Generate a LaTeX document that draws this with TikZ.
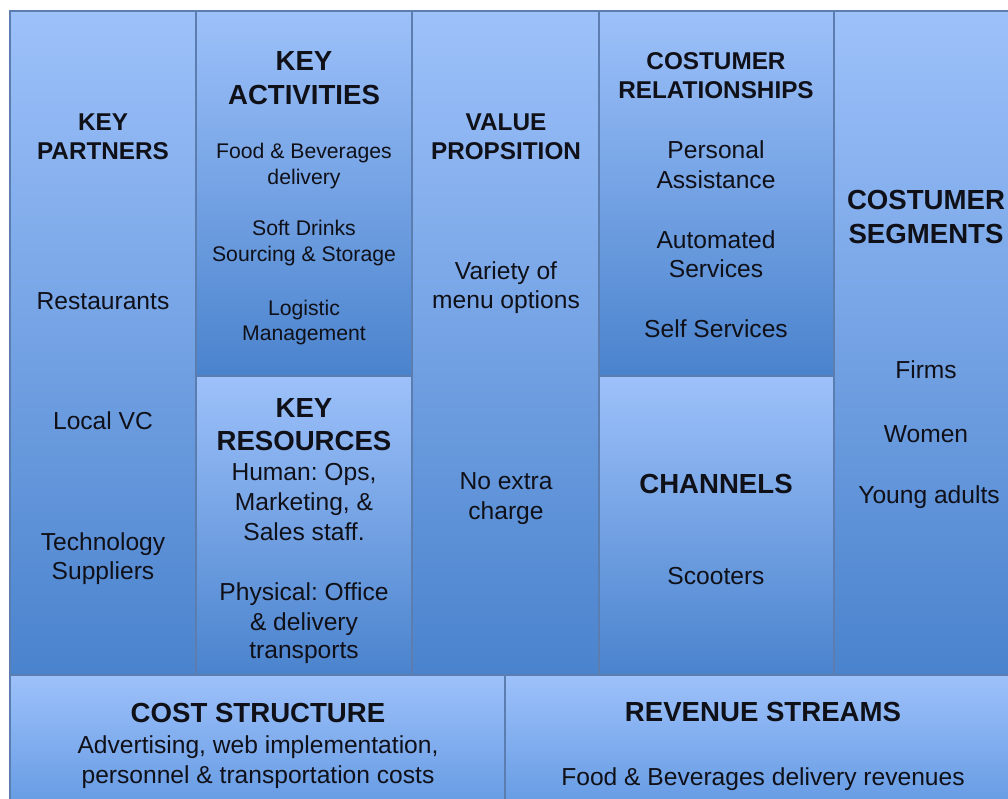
\documentclass[tikz,border=0pt]{standalone}
\usepackage{fontspec}
\setmainfont{Liberation Sans}
\frenchspacing
\definecolor{lightb}{HTML}{9DC1FA}
\definecolor{darkb}{HTML}{4A83CD}
\definecolor{midb}{HTML}{6399E2}
\definecolor{edgeb}{HTML}{5B7DB0}
\definecolor{ink}{HTML}{101018}
\begin{document}
\begin{tikzpicture}[x=1pt,y=-1pt,
  cell/.style={top color=lightb,bottom color=darkb,draw=edgeb,line width=1.2pt},
  lowcell/.style={top color=lightb,bottom color=midb,draw=edgeb,line width=1.2pt},
  ttls/.style={font=\fontsize{24.3}{29}\selectfont\bfseries,anchor=base,inner sep=0pt,text=ink},
  ttll/.style={font=\fontsize{27.6}{34}\selectfont\bfseries,anchor=base,inner sep=0pt,text=ink},
  body/.style={font=\fontsize{24.6}{30}\selectfont,anchor=base,inner sep=0pt,text=ink},
  small/.style={font=\fontsize{21.2}{26}\selectfont,anchor=base,inner sep=0pt,text=ink}]
\useasboundingbox (0,0) rectangle (1008,798);
\fill[white] (0,0) rectangle (1008,798);
\begin{scope}
\clip (0,0) rectangle (1008,798);
% boxes
\shade[cell] (10,11) rectangle (196,675);
\shade[cell] (196,11) rectangle (412,376);
\shade[cell] (196,376) rectangle (412,675);
\shade[cell] (412,11) rectangle (599,675);
\shade[cell] (599,11) rectangle (834,376);
\shade[cell] (599,376) rectangle (834,675);
\shade[cell] (834,11) rectangle (1020,675);
\shade[lowcell] (10,675) rectangle (505,812);
\shade[lowcell] (505,675) rectangle (1020,812);
% key partners
\node[ttls] (kp1) at (103,130) {KEY};
\node[ttls] (kp2) at (103,159) {PARTNERS};
\node[body] (kp3) at (103,309) {Restaurants};
\node[body] (kp4) at (103,429) {Local VC};
\node[body] (kp5) at (103,550) {Technology};
\node[body] (kp6) at (103,579) {Suppliers};
% key activities
\node[ttll] (ka1) at (304,70) {KEY};
\node[ttll] (ka2) at (304,104) {ACTIVITIES};
\node[small] (ka3) at (304,158) {Food \& Beverages};
\node[small] (ka4) at (304,184) {delivery};
\node[small] (ka5) at (304,235) {Soft Drinks};
\node[small] (ka6) at (304,261) {Sourcing \& Storage};
\node[small] (ka7) at (304,315) {Logistic};
\node[small] (ka8) at (304,340) {Management};
% key resources
\node[ttll] (kr1) at (304,417) {KEY};
\node[ttll] (kr2) at (304,450) {RESOURCES};
\node[body] (kr3) at (304,480) {Human: Ops,};
\node[body] (kr4) at (304,510) {Marketing, \&};
\node[body] (kr5) at (304,540) {Sales staff.};
\node[body] (kr6) at (304,600) {Physical: Office};
\node[body] (kr7) at (304,630) {\& delivery};
\node[body] (kr8) at (304,658) {transports};
% value proposition
\node[ttls] (vp1) at (506,130) {VALUE};
\node[ttls] (vp2) at (506,159) {PROPSITION};
\node[body] (vp3) at (506,279) {Variety of};
\node[body] (vp4) at (506,308) {menu options};
\node[body] (vp5) at (506,489) {No extra};
\node[body] (vp6) at (506,519) {charge};
% customer relationships
\node[ttls] (cr1) at (716,69) {COSTUMER};
\node[ttls] (cr2) at (716,98) {RELATIONSHIPS};
\node[body] (cr3) at (716,158) {Personal};
\node[body] (cr4) at (716,188) {Assistance};
\node[body] (cr5) at (716,248) {Automated};
\node[body] (cr6) at (716,277) {Services};
\node[body] (cr7) at (716,337) {Self Services};
% channels
\node[ttll] (ch1) at (716,493) {CHANNELS};
\node[body] (ch2) at (716,584) {Scooters};
% customer segments
\node[ttll] (cs1) at (926,209) {COSTUMER};
\node[ttll] (cs2) at (926,243) {SEGMENTS};
\node[body] (cs3) at (926,378) {Firms};
\node[body] (cs4) at (926,442) {Women};
\node[body] (cs5) at (929,503) {Young adults};
% cost structure
\node[ttll] (co1) at (258,722) {COST STRUCTURE};
\node[body] (co2) at (258,753) {Advertising, web implementation,};
\node[body] (co3) at (258,783) {personnel \& transportation costs};
% revenue streams
\node[ttll] (rv1) at (763,721) {REVENUE STREAMS};
\node[body] (rv2) at (763,785) {Food \& Beverages delivery revenues};
\end{scope}
\end{tikzpicture}
\end{document}
